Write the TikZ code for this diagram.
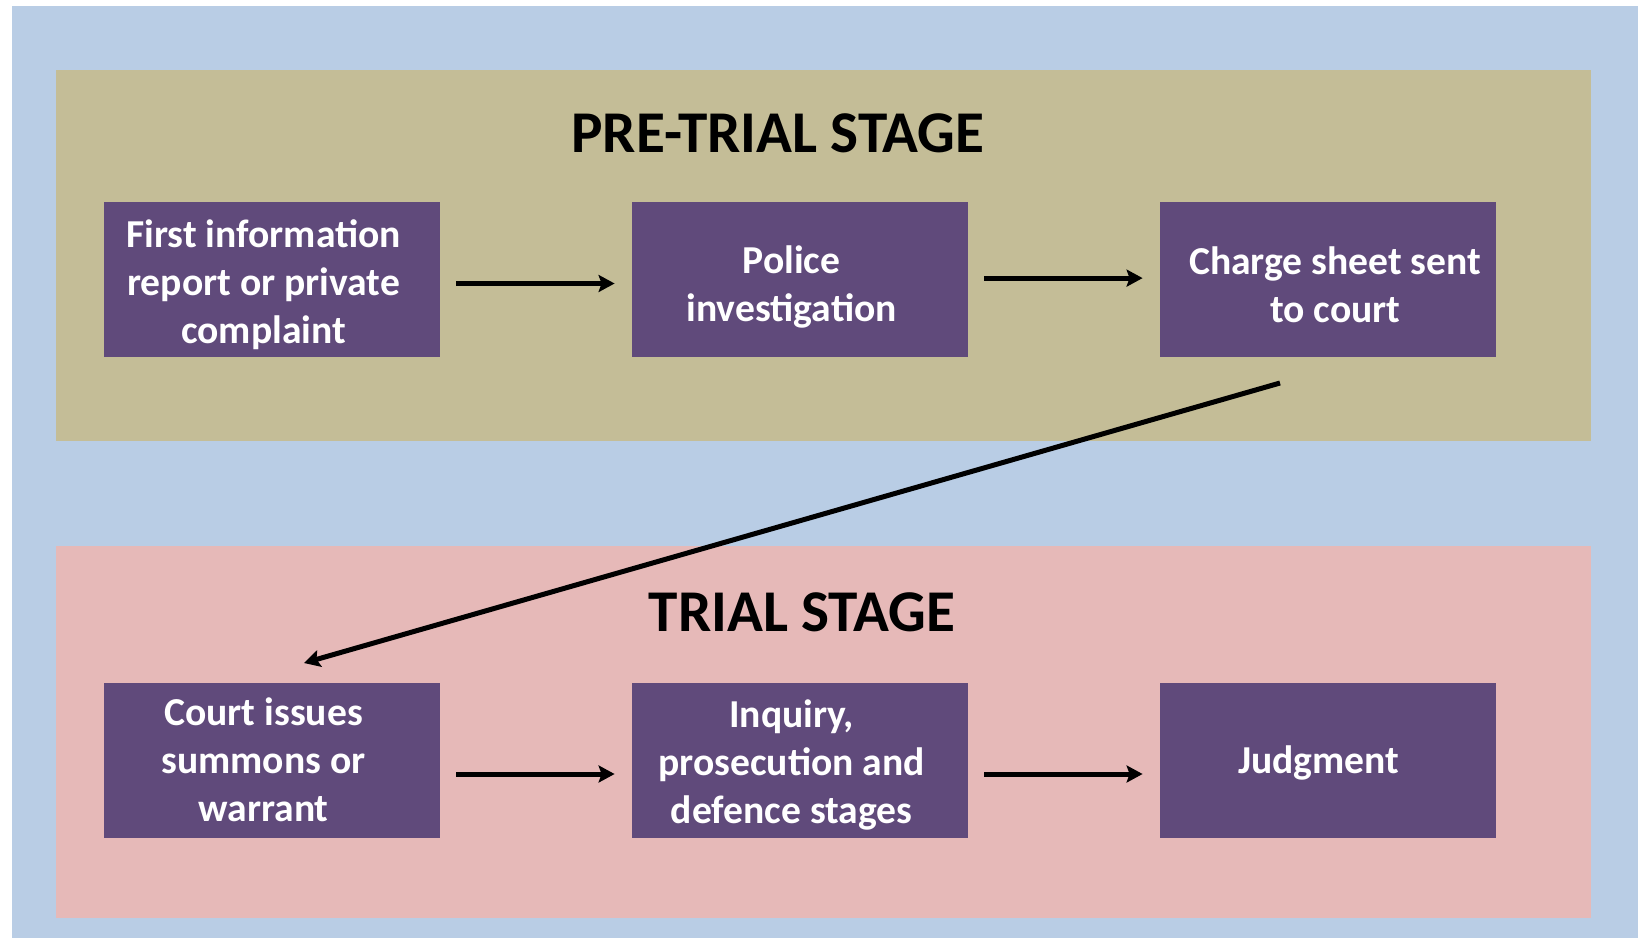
\documentclass[tikz,border=0pt]{standalone}
\usepackage{fontspec}
\setmainfont{Carlito}
\usetikzlibrary{arrows.meta}
\definecolor{bgblue}{HTML}{B9CDE5}
\definecolor{tan}{HTML}{C4BD97}
\definecolor{pinkish}{HTML}{E6B9B8}
\definecolor{boxpurple}{HTML}{604A7B}
\begin{document}
\begin{tikzpicture}[x=0.5pt,y=-0.5pt,
  stagebox/.style={fill=boxpurple, draw=none, minimum width=168pt, minimum height=77.5pt, inner sep=0pt},
  boxtext/.style={text=white, font=\bfseries\fontsize{19.8}{24}\selectfont, align=center, inner sep=0pt},
  flow/.style={line width=2.5pt, -{Stealth[length=8pt,width=8.5pt,inset=1.5pt]}},
  title/.style={font=\bfseries\fontsize{29.6}{36}\selectfont, inner sep=0pt}
]
\useasboundingbox (0,0) rectangle (1638,938);
\fill[bgblue] (12,6) rectangle (1638,938);
\fill[tan] (56,70) rectangle (1591,441);
\fill[pinkish] (56,546) rectangle (1591,918);

\node[title] (t1) at (778,133) {PRE-TRIAL STAGE};
\node[title] (t2) at (802,612) {TRIAL STAGE};

\node[stagebox] (b1) at (272,279.5) {};
\node[stagebox] (b2) at (800,279.5) {};
\node[stagebox] (b3) at (1328,279.5) {};
\node[stagebox] (c1) at (272,760) {};
\node[stagebox] (c2) at (800,760) {};
\node[stagebox] (c3) at (1328,760) {};

\node[boxtext] (b1t) at ([xshift=-4.2pt,yshift=-2.8pt]b1.center) {First information\\report or private\\complaint};
\node[boxtext] (b2t) at ([xshift=-4.2pt,yshift=-3.8pt]b2.center) {Police\\investigation};
\node[boxtext] (b3t) at ([xshift=3.6pt,yshift=-2.4pt]b3.center) {Charge sheet sent\\to court};
\node[boxtext] (c1t) at ([xshift=-4.2pt,yshift=0pt]c1.center) {Court issues\\summons or\\warrant};
\node[boxtext] (c2t) at ([xshift=-4.2pt,yshift=-2.6pt]c2.center) {Inquiry,\\prosecution and\\defence stages};
\node[boxtext] (c3t) at ([xshift=-4.7pt,yshift=-1.6pt]c3.center) {Judgment};

\draw[flow] ([xshift=8pt,yshift=-2pt]b1.east) -- ([xshift=-8.5pt,yshift=-2pt]b2.west);
\draw[flow] ([xshift=8pt,yshift=0.7pt]b2.east) -- ([xshift=-8.5pt,yshift=0.7pt]b3.west);
\draw[flow] ([xshift=8pt,yshift=-7pt]c1.east) -- ([xshift=-8.5pt,yshift=-7pt]c2.west);
\draw[flow] ([xshift=8pt,yshift=-7pt]c2.east) -- ([xshift=-8.5pt,yshift=-7pt]c3.west);

\coordinate (dstart) at (1280,383);
\coordinate (dend) at (304,663);
\draw[flow] (dstart) -- (dend);
\end{tikzpicture}
\end{document}
